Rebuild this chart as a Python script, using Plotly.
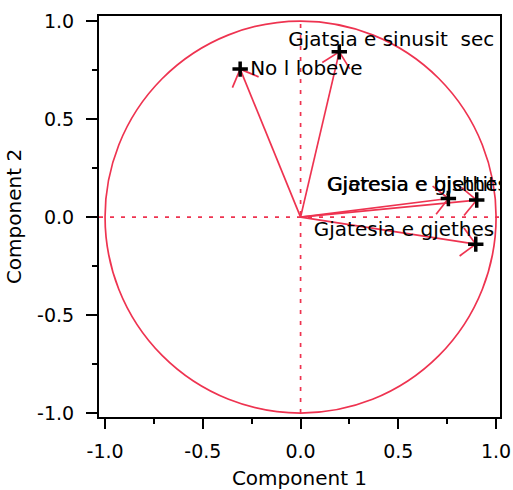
import math
import plotly.graph_objects as go

# ---- data ----
variables = ["No l lobeve", "Gjatsia e sinusit  sec", "Gjeresia e gjethes",
             "Gjatesia e bishtit", "Gjatesia e gjethes"]
comp1 = [-0.309, 0.198, 0.756, 0.901, 0.896]
comp2 = [0.755, 0.843, 0.095, 0.087, -0.138]

tick_vals = [-1.0, -0.5, 0.0, 0.5, 1.0]
tick_text = ["-1.0", "-0.5", "0.0", "0.5", "1.0"]
x_title = "Component 1"
y_title = "Component 2"

# ---- style ----
RED = "#EE3350"
FONT = "DejaVu Sans"
XR = [-1.031, 1.020]
YR = [-1.020, 1.026]
PLOT_W, PLOT_H = 401, 401
SX = PLOT_W / (XR[1] - XR[0])
SY = PLOT_H / (YR[1] - YR[0])
# label offsets in screen pixels (dx right, dy down)
label_shift = [(10, 1), (-51, -11), (-121, -12), (-150, -14), (-162, -13.5)]
HEAD_LEN = 20  # px
HEAD_ANG = math.radians(45)

fig = go.Figure()

# arrows
ax, ay = [], []
for x, y in zip(comp1, comp2):
    ax += [0, x, None]
    ay += [0, y, None]
    ang = math.atan2(-y * SY, -x * SX)  # back direction in px space
    for s in (1, -1):
        a = ang + s * HEAD_ANG
        wx = x + HEAD_LEN * math.cos(a) / SX
        wy = y + HEAD_LEN * math.sin(a) / SY
        ax += [x, wx, None]
        ay += [y, wy, None]
fig.add_trace(go.Scatter(x=ax, y=ay, mode="lines",
                         line=dict(color=RED, width=1.7),
                         hoverinfo="skip", showlegend=False))

# crosses
fig.add_trace(go.Scatter(x=comp1, y=comp2, mode="markers",
                         marker=dict(symbol="cross-thin", size=11,
                                     line=dict(color="black", width=3.5)),
                         showlegend=False, text=variables))

# labels
lx = [x + d[0] / SX for x, d in zip(comp1, label_shift)]
ly = [y - d[1] / SY for y, d in zip(comp2, label_shift)]
fig.add_trace(go.Scatter(x=lx, y=ly, mode="text", text=variables,
                         textposition="middle right",
                         textfont=dict(family=FONT, size=20, color="black"),
                         cliponaxis=True, hoverinfo="skip", showlegend=False))

# unit circle and reference lines
fig.add_shape(type="circle", xref="x", yref="y", x0=-1, y0=-1, x1=1, y1=1,
              line=dict(color=RED, width=1.7), layer="below")
fig.add_shape(type="line", xref="x", yref="y", x0=0, x1=0, y0=-1, y1=1,
              line=dict(color=RED, width=1.7, dash="4px,7px"), layer="below")
fig.add_shape(type="line", xref="paper", yref="y", x0=0, x1=1, y0=0, y1=0,
              line=dict(color=RED, width=1.7, dash="4px,7px"), layer="below")

axis_common = dict(
    showgrid=False, zeroline=False, showline=True, mirror=True,
    linecolor="black", linewidth=2, automargin=False,
    ticks="outside", tickwidth=2, tickcolor="black",
    tickmode="array", tickvals=tick_vals, ticktext=tick_text,
    tickfont=dict(family=FONT, size=19, color="black"),
    minor=dict(dtick=0.25, tick0=0, ticks="outside", ticklen=5,
               tickwidth=2, tickcolor="black"),
)

fig.update_layout(
    width=513, height=490,
    margin=dict(l=99, r=13, t=16, b=73, autoexpand=False),
    paper_bgcolor="white", plot_bgcolor="white",
    font=dict(family=FONT, color="black"),
    xaxis=dict(range=XR, ticklen=10, ticklabelstandoff=6,
               title=dict(text=x_title, font=dict(family=FONT, size=20),
                          standoff=12),
               **axis_common),
    yaxis=dict(range=YR, ticklen=11, ticklabelstandoff=8,
               title=dict(text=y_title, font=dict(family=FONT, size=20),
                          standoff=10),
               **axis_common),
)

# place the figure at the page's top-left corner without scrollbars
fig.write_html(
    "out.html",
    config={"displayModeBar": False},
    post_script="document.body.style.margin='0';"
                "document.body.style.overflow='hidden';",
)
